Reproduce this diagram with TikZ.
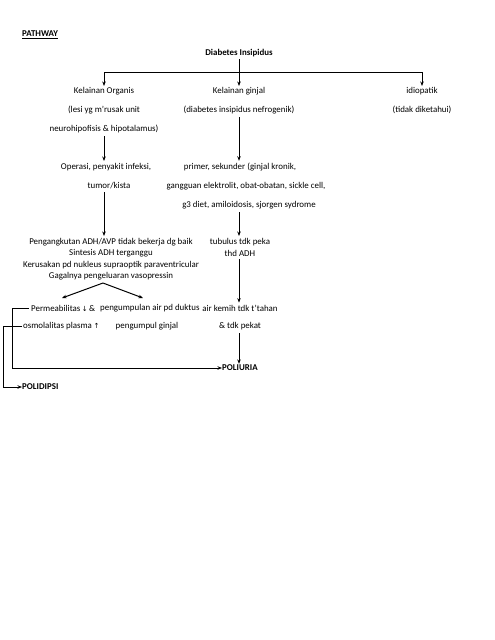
\documentclass[tikz,border=0pt]{standalone}
\usepackage{fontspec}
\setmainfont{Carlito}
\newfontfamily\symf{DejaVu Sans}
\usetikzlibrary{arrows.meta}
\begin{document}
\begin{tikzpicture}[x=1pt,y=-1pt,
  txt/.style={inner sep=0pt,font=\fontsize{8.9}{10.5}\selectfont,anchor=center},
  bold/.style={txt,font=\fontsize{8.9}{10.5}\selectfont\bfseries},
  conn/.style={line width=1pt,-{Stealth[length=4.5pt,width=3.5pt]}},
  plain/.style={line width=1pt}]
\useasboundingbox (0,0) rectangle (495,640);
\fill[white] (0,0) rectangle (495,640);
% title
\node[bold,anchor=west] (pw) at (22,35) {\underline{PATHWAY}};
\node[bold] (di) at (239,53) {Diabetes Insipidus};
% level 1
\node[txt] (ko1) at (104,91) {Kelainan Organis};
\node[txt] (ko2) at (104,110) {(lesi yg m'rusak unit};
\node[txt] (ko3) at (104,129) {neurohipofisis \& hipotalamus)};
\node[txt] (kg1) at (239,91) {Kelainan ginjal};
\node[txt] (kg2) at (239,110) {(diabetes insipidus nefrogenik)};
\node[txt] (id1) at (422,91) {idiopatik};
\node[txt] (id2) at (422,110) {(tidak diketahui)};
% level 2
\node[txt] (op1) at (106,167) {Operasi, penyakit infeksi,};
\node[txt] (op2) at (109,186) {tumor/kista};
\node[txt] (ps1) at (240,167) {primer, sekunder (ginjal kronik,};
\node[txt] (ps2) at (246,186) {gangguan elektrolit, obat-obatan, sickle cell,};
\node[txt] (ps3) at (249,205) {g3 diet, amiloidosis, sjorgen sydrome};
% level 3
\node[txt] (p1) at (111,242) {Pengangkutan ADH/AVP tidak bekerja dg baik};
\node[txt] (p2) at (111,253.5) {Sintesis ADH terganggu};
\node[txt] (p3) at (111,265) {Kerusakan pd nukleus supraoptik paraventricular};
\node[txt] (p4) at (111,276) {Gagalnya pengeluaran vasopressin};
\node[txt] (tb1) at (240,242) {tubulus tdk peka};
\node[txt] (tb2) at (240,253) {thd ADH};
% level 4
\node[txt,anchor=west] (pm) at (31,308) {Permeabilitas\,{\symf\fontsize{7}{8}\selectfont ↓}\,\&};
\node[txt,anchor=west] (om) at (23,326) {osmolalitas plasma\,{\symf\fontsize{7}{8}\selectfont ↑}};
\node[txt,anchor=west] (pk1) at (100,308) {pengumpulan air pd duktus};
\node[txt] (pk2) at (147,326) {pengumpul ginjal};
\node[txt] (ak1) at (240,308) {air kemih tdk t'tahan};
\node[txt] (ak2) at (240,326) {\& tdk pekat};
% outcomes
\node[bold,anchor=west] (pol) at (222,368) {POLIURIA};
\node[bold,anchor=west] (pod) at (22,387) {POLIDIPSI};
% coordinates
\coordinate (cA) at (104,0);
\coordinate (cB) at (239,0);
\coordinate (bar) at (239,72);
\coordinate (apex) at (103,283);
\coordinate (tl) at (62,298);
\coordinate (tr) at (143,298);
% connectors
\draw[plain] (cA |- bar) -- (id1.north |- bar);
\draw[conn] ([yshift=-2pt]di.south -| cB) -- ([yshift=1pt]cB |- kg1.north);
\draw[conn] (cA |- bar) -- ([yshift=1pt]cA |- ko1.north);
\draw[conn] (id1.north |- bar) -- ([yshift=1pt]id1.north);
\draw[conn] ([yshift=-3pt]cA |- ko3.south) -- ([yshift=2pt]cA |- op1.north);
\draw[conn] ([yshift=-3pt]cB |- kg2.south) -- ([yshift=2pt]cB |- ps1.north);
\draw[conn] ([yshift=-3pt]cA |- op2.south) -- ([yshift=2pt]cA |- p1.north);
\draw[conn] ([yshift=-3pt]cB |- ps3.south) -- ([yshift=2pt]cB |- tb1.north);
\draw[conn] ([yshift=-3pt]cB |- tb2.south) -- ([yshift=2pt]cB |- ak1.north);
\draw[conn] ([yshift=-3pt]cB |- ak2.south) -- ([yshift=1pt]cB |- pol.north);
\draw[conn] (apex) -- (tl);
\draw[conn] (apex) -- (tr);
\draw[conn] ([xshift=-2pt]pm.west) -- (12,308) -- (12,368) -- (pol.west);
\draw[conn] ([xshift=-1pt]om.west) -- (3,326) -- (3,387) -- (pod.west);
\end{tikzpicture}
\end{document}
